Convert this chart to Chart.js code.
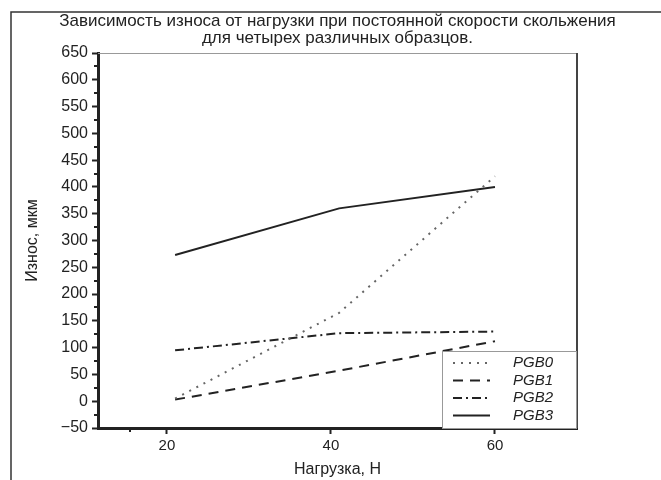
<!DOCTYPE html>
<html lang="ru">
<head>
<meta charset="utf-8">
<title>Износ от нагрузки</title>
<script src="https://cdn.jsdelivr.net/npm/chart.js@4.4.1/dist/chart.umd.min.js"></script>
<style>
    html, body { margin: 0; padding: 0; background: #fff; }
    #wrap { width: 661px; height: 480px; }
</style>
</head>
<body>
<div id="wrap"><canvas id="wearChart" width="661" height="480"></canvas></div>
<script>
// Данные
const titleLines = [
    'Зависимость износа от нагрузки при постоянной скорости скольжения',
    'для четырех различных образцов.'
];
const xLabel = 'Нагрузка, Н';
const yLabel = 'Износ, мкм';

const loads = [21, 41, 60];
const pgb0 = [5, 165, 420];
const pgb1 = [3, 57, 112];
const pgb2 = [95, 127, 130];
const pgb3 = [273, 360, 400];
const seriesNames = ['PGB0', 'PGB1', 'PGB2', 'PGB3'];

const xTicks = [20, 40, 60];
const xMinorTicks = [15.5];
const xMin = 11.6, xMax = 70;
const yMin = -50, yMax = 650, yStep = 50;

const FONT = '"Liberation Sans", Arial, sans-serif';
const INK = '#222';

Chart.defaults.font.family = FONT;
Chart.defaults.color = INK;

function toPoints(values) {
    return loads.map((x, i) => ({ x: x, y: values[i] }));
}

const styles = [
    { color: '#666', dash: [2, 6] },
    { color: INK, dash: [10, 7] },
    { color: INK, dash: [9, 4, 2, 4] },
    { color: INK, dash: [] }
];

const datasets = [pgb0, pgb1, pgb2, pgb3].map((values, i) => ({
    label: seriesNames[i],
    data: toPoints(values),
    borderColor: styles[i].color,
    borderDash: styles[i].dash,
    borderWidth: 2,
    borderCapStyle: 'butt',
    pointRadius: 0,
    tension: 0,
    fill: false
}));

// Рамка, заголовок, малые деления и легенда
const framePlugin = {
    id: 'frame',
    beforeDraw(chart) {
        const ctx = chart.ctx;
        const area = chart.chartArea;
        ctx.save();
        ctx.fillStyle = '#fff';
        ctx.fillRect(0, 0, chart.width, chart.height);
        ctx.strokeStyle = '#333';
        ctx.lineWidth = 1.5;
        ctx.beginPath();
        ctx.moveTo(11, chart.height);
        ctx.lineTo(11, 12);
        ctx.lineTo(chart.width, 12);
        ctx.stroke();

        // заголовок по центру области графика
        const cx = (area.left + area.right) / 2;
        ctx.fillStyle = INK;
        ctx.font = '17px ' + FONT;
        ctx.textAlign = 'center';
        ctx.textBaseline = 'middle';
        titleLines.forEach((line, i) => ctx.fillText(line, cx, 21 + i * 17));
        ctx.restore();
    },
    afterDatasetsDraw(chart) {
        const ctx = chart.ctx;
        const area = chart.chartArea;
        const xs = chart.scales.x;
        const ys = chart.scales.y;
        ctx.save();

        // верхняя и правая границы
        ctx.strokeStyle = '#999';
        ctx.lineWidth = 1;
        ctx.beginPath();
        ctx.moveTo(area.left, area.top + 0.5);
        ctx.lineTo(area.right, area.top + 0.5);
        ctx.stroke();
        ctx.strokeStyle = '#444';
        ctx.lineWidth = 2;
        ctx.beginPath();
        ctx.moveTo(area.right, area.top);
        ctx.lineTo(area.right, area.bottom);
        ctx.stroke();

        // малые деления
        ctx.strokeStyle = INK;
        ctx.lineWidth = 2;
        ctx.beginPath();
        for (let v = yMin + yStep / 2; v < yMax; v += yStep) {
            const py = Math.round(ys.getPixelForValue(v));
            ctx.moveTo(area.left - 4, py);
            ctx.lineTo(area.left, py);
        }
        xMinorTicks.forEach(v => {
            const px = Math.round(xs.getPixelForValue(v));
            ctx.moveTo(px, area.bottom);
            ctx.lineTo(px, area.bottom + 4);
        });
        ctx.stroke();

        // легенда
        const boxW = 135, boxH = 77;
        const bx = area.right - boxW, by = area.bottom - boxH;
        ctx.fillStyle = '#fff';
        ctx.fillRect(bx, by, boxW, boxH);
        ctx.strokeStyle = '#999';
        ctx.lineWidth = 1;
        ctx.strokeRect(bx + 0.5, by + 0.5, boxW - 1, boxH);

        ctx.font = 'italic 15px ' + FONT;
        ctx.textBaseline = 'middle';
        chart.data.datasets.forEach((ds, i) => {
            const ry = by + 12 + i * 17.5;
            ctx.strokeStyle = ds.borderColor;
            ctx.lineWidth = 2;
            ctx.setLineDash(ds.borderDash);
            ctx.beginPath();
            ctx.moveTo(bx + 11, ry);
            ctx.lineTo(bx + 48, ry);
            ctx.stroke();
            ctx.setLineDash([]);
            ctx.fillStyle = INK;
            ctx.fillText(ds.label, bx + 71, ry);
        });
        ctx.restore();
    }
};

new Chart(document.getElementById('wearChart'), {
    type: 'line',
    data: { datasets: datasets },
    options: {
        responsive: false,
        animation: false,
        layout: { padding: { left: 0, right: 84, top: 53, bottom: 0 } },
        plugins: {
            legend: { display: false },
            tooltip: { enabled: false },
            title: { display: false }
        },
        scales: {
            x: {
                type: 'linear',
                min: xMin,
                max: xMax,
                afterBuildTicks: scale => {
                    scale.ticks = xTicks.map(v => ({ value: v }));
                },
                afterFit: scale => { scale.height = 52; },
                grid: {
                    drawOnChartArea: false,
                    drawTicks: true,
                    tickLength: 6,
                    tickWidth: 2,
                    tickColor: INK
                },
                border: { display: true, color: INK, width: 3 },
                ticks: { font: { size: 15 }, padding: 3, maxRotation: 0, color: INK },
                title: {
                    display: true,
                    text: xLabel,
                    color: INK,
                    font: { size: 16 },
                    padding: { top: 0, bottom: 1 }
                }
            },
            y: {
                min: yMin,
                max: yMax,
                afterFit: scale => { scale.width = 98; },
                grid: {
                    drawOnChartArea: false,
                    drawTicks: true,
                    tickLength: 6,
                    tickWidth: 2,
                    tickColor: INK
                },
                border: { display: true, color: INK, width: 3 },
                ticks: {
                    stepSize: yStep,
                    autoSkip: false,
                    font: { size: 16 },
                    padding: 4,
                    color: INK,
                    callback: v => v < 0 ? '\u2212' + Math.abs(v) : String(v)
                },
                title: {
                    display: true,
                    text: yLabel,
                    color: INK,
                    font: { size: 16 },
                    padding: { top: 23, bottom: 0 }
                }
            }
        }
    },
    plugins: [framePlugin]
});
</script>
</body>
</html>
